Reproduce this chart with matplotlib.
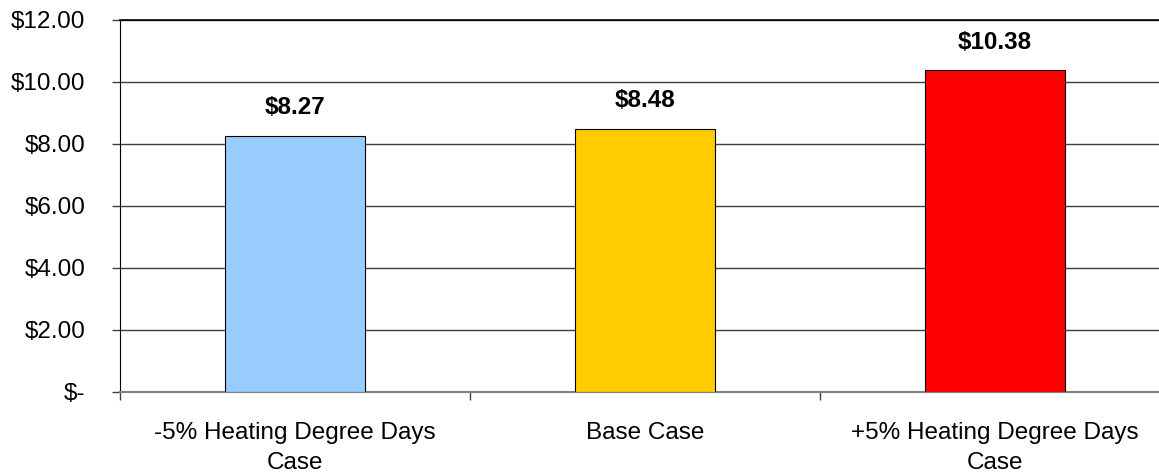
import matplotlib.pyplot as plt
import numpy as np

plt.rcParams['font.family'] = ['Liberation Sans', 'DejaVu Sans']

# Scenario costs
cases = ['-5% Heating Degree Days\nCase', 'Base Case', '+5% Heating Degree Days\nCase']
costs = [8.27, 8.48, 10.38]
colors = ['#99CCFF', '#FFCC00', '#FF0000']
yticks = [0, 2, 4, 6, 8, 10, 12]
ytick_labels = ['$-', '$2.00', '$4.00', '$6.00', '$8.00', '$10.00', '$12.00']

fig = plt.figure(figsize=(11.59, 4.72), dpi=100)
# plot area runs a little past the right edge of the figure
ax = fig.add_axes([120 / 1159, 80 / 472, 1050 / 1159, 372 / 472])

x = np.arange(len(cases))
bars = ax.bar(x, costs, width=0.4, color=colors, edgecolor='black', linewidth=0.8, zorder=3)

for xi, v in zip(x, costs):
    ax.annotate(f'${v:.2f}', (xi, v), xytext=(0, 12), textcoords='offset points',
                ha='center', va='bottom', fontsize=17.5, fontweight='bold')

ax.set_xlim(-0.5, 2.5)
ax.set_ylim(0, 12)
ax.set_yticks(yticks)
ax.set_yticklabels(ytick_labels, fontsize=17.5)
ax.set_xticks(x)
ax.set_xticklabels(cases, fontsize=17.5, linespacing=1.45)
ax.set_xticks([-0.5, 0.5, 1.5, 2.5], minor=True)

ax.tick_params(axis='x', which='major', length=0, pad=21.5)
ax.tick_params(axis='x', which='minor', length=6, width=1, color='#404040')
ax.tick_params(axis='y', length=6, width=1, pad=19, color='#404040')

ax.yaxis.grid(True, color='#404040', linewidth=1, zorder=0)
ax.set_axisbelow(True)

ax.spines['top'].set_visible(False)
ax.spines['right'].set_visible(False)
ax.spines['left'].set_color('black')
ax.spines['bottom'].set_color('#808080')
ax.spines['bottom'].set_linewidth(1.5)
ax.axhline(12, color='black', linewidth=1.2, zorder=1, clip_on=False)

fig.savefig('out.png', dpi=100)
